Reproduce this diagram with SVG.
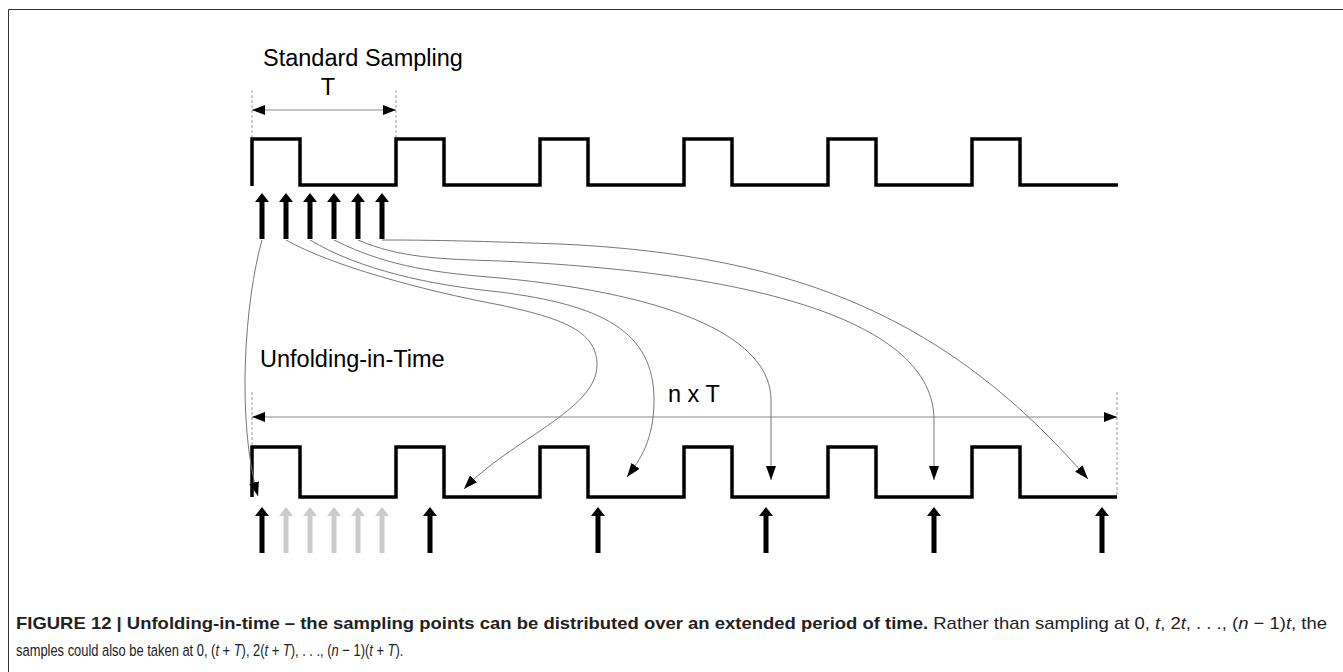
<svg xmlns="http://www.w3.org/2000/svg" xmlns:xlink="http://www.w3.org/1999/xlink" width="1343" height="672" viewBox="0 0 1343 672">
  <style>
    .wave { fill: none; stroke: #000; stroke-width: 3.5; stroke-linejoin: miter; }
    .dim { fill: none; stroke: #888; stroke-width: 1; }
    .guide { fill: none; stroke: #999; stroke-width: 1; stroke-dasharray: 3 2; }
    .link { fill: none; stroke: #777; stroke-width: 1; }
    .lbl { font-family: "Liberation Sans", Arial, sans-serif; font-size: 23.5px; fill: #000; }
    .cap { font-family: "Liberation Sans", Arial, sans-serif; font-size: 17px; fill: #222; }
    .b { font-weight: bold; }
    .i { font-style: italic; }
  </style>
  <defs>
    <marker id="dimHead" viewBox="0 0 13 10" refX="13" refY="5" markerWidth="13" markerHeight="10" markerUnits="userSpaceOnUse" orient="auto-start-reverse">
      <path d="M0,0 L13,5 L0,10 Z" fill="#000"/>
    </marker>
    <marker id="linkHead" viewBox="0 0 14 10" refX="14" refY="5" markerWidth="14" markerHeight="10" markerUnits="userSpaceOnUse" orient="auto">
      <path d="M0,0 L14,5 L0,10 Z" fill="#000"/>
    </marker>
    <path id="sample" d="M0,0 L7,9 L2.5,9 L2.5,46 L-2.5,46 L-2.5,9 L-7,9 Z"/>
  </defs>

  <rect width="1343" height="672" fill="#fff"/>
  <!-- frame -->
  <path d="M8.5,672 V9.5 H1343" fill="none" stroke="#333" stroke-width="1"/>

  <!-- standard sampling clock -->
  <g id="standard-sampling">
    <text class="lbl" x="263" y="66">Standard Sampling</text>
    <path class="guide" d="M252,90 V139 M396,90 V139"/>
    <line class="dim" x1="252" y1="110" x2="396" y2="110" marker-start="url(#dimHead)" marker-end="url(#dimHead)"/>
    <text class="lbl" x="328" y="95" text-anchor="middle">T</text>
    <path class="wave" d="M252,186 V139 H300 V185 H396 V139 H444 V185 H540 V139 H588 V185 H684 V139 H732 V185 H828 V139 H876 V185 H972 V139 H1020 V185 H1118"/>
    <g fill="#000">
      <use xlink:href="#sample" x="262" y="193"/>
      <use xlink:href="#sample" x="286" y="193"/>
      <use xlink:href="#sample" x="310" y="193"/>
      <use xlink:href="#sample" x="334" y="193"/>
      <use xlink:href="#sample" x="358" y="193"/>
      <use xlink:href="#sample" x="382" y="193"/>
    </g>
  </g>

  <!-- unfolded sampling clock -->
  <g id="unfolding-in-time">
    <text class="lbl" x="260" y="367">Unfolding-in-Time</text>
    <text class="lbl" x="668" y="402">n x T</text>
    <path class="guide" d="M252,392 V447 M1117,392 V497"/>
    <line class="dim" x1="252" y1="417" x2="1117" y2="417" marker-start="url(#dimHead)" marker-end="url(#dimHead)"/>
    <path class="wave" d="M252,497 V447 H300 V497 H396 V447 H444 V497 H540 V447 H588 V497 H684 V447 H732 V497 H828 V447 H876 V497 H972 V447 H1020 V497 H1117"/>
    <g fill="#ccc">
      <use xlink:href="#sample" x="286" y="507"/>
      <use xlink:href="#sample" x="310" y="507"/>
      <use xlink:href="#sample" x="334" y="507"/>
      <use xlink:href="#sample" x="358" y="507"/>
      <use xlink:href="#sample" x="382" y="507"/>
    </g>
    <g fill="#000">
      <use xlink:href="#sample" x="262" y="507"/>
      <use xlink:href="#sample" x="430" y="507"/>
      <use xlink:href="#sample" x="598" y="507"/>
      <use xlink:href="#sample" x="766" y="507"/>
      <use xlink:href="#sample" x="934" y="507"/>
      <use xlink:href="#sample" x="1102" y="507"/>
    </g>
  </g>

  <!-- remapping of each sample -->
  <g id="connectors" class="link" marker-end="url(#linkHead)">
    <path d="M262,240 C245,300 236,420 258,496"/>
    <path d="M286,240 C330,265 420,290 500,305 C560,318 597,330 597,365 C597,410 510,440 464,489"/>
    <path d="M310,240 C360,270 430,285 500,292 C600,305 654,330 654,400 C654,440 640,460 627,477"/>
    <path d="M334,240 C390,268 440,273 500,278 C680,295 771,340 771,400 L771,480"/>
    <path d="M358,240 C400,258 440,259 500,261 C750,272 934,320 934,420 L934,480"/>
    <path d="M382,240 C450,240 500,242 560,244 C800,255 950,320 1088,479"/>
  </g>

  <!-- caption (horizontally condensed) -->
  <g id="caption">
    <text class="cap" x="16" y="629" textLength="1311" lengthAdjust="spacingAndGlyphs"><tspan class="b">FIGURE 12 | Unfolding-in-time – the sampling points can be distributed over an extended period of time.</tspan> Rather than sampling at 0, <tspan class="i">t</tspan>, 2<tspan class="i">t</tspan>, . . ., (<tspan class="i">n</tspan> − 1)<tspan class="i">t</tspan>, the</text>
    <text class="cap" transform="translate(16,656) scale(0.76,1)">samples could also be taken at 0, (<tspan class="i">t</tspan> + <tspan class="i">T</tspan>), 2(<tspan class="i">t</tspan> + <tspan class="i">T</tspan>), . . ., (<tspan class="i">n</tspan> − 1)(<tspan class="i">t</tspan> + <tspan class="i">T</tspan>).</text>
  </g>
</svg>
